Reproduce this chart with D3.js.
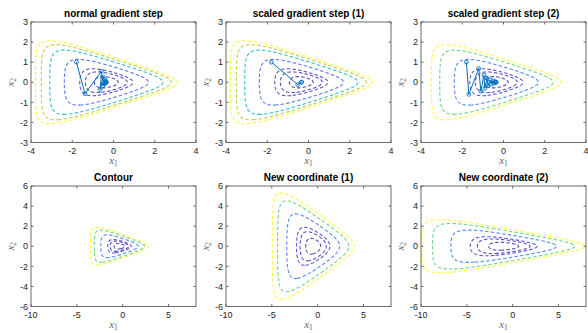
<!DOCTYPE html>
<html>
<head>
<meta charset="utf-8">
<script src="https://cdn.jsdelivr.net/npm/d3@7"></script>
<style>
  body { margin: 0; background: #fff; }
  text { font-family: "Liberation Sans", Arial, sans-serif; }
</style>
</head>
<body>
<script>
const width = 588;
const height = 333;

// contour levels of f(x) = exp(x1+3x2-.1) + exp(x1-3x2-.1) + exp(-x1-.1)
const levelsMany = [3, 4, 5, 10, 20, 30, 40];
const levelsFew = [3, 4, 5, 10, 20, 30];

// iterates
const pathNormal = [
  [-1.8, 1.0], [-1.38, -0.57], [-0.58, 0.55], [-0.65, -0.37], [-0.5, 0.27],
  [-0.52, -0.18], [-0.42, 0.13], [-0.44, -0.09], [-0.38, 0.06], [-0.39, -0.04],
  [-0.36, 0.02], [-0.36, -0.01], [-0.35, 0.0]
];
const pathScaled1 = [[-1.8, 1.0], [-0.52, -0.12], [-0.33, 0.01], [-0.35, 0.0]];
const pathScaled2 = [
  [-1.8, 1.0], [-1.68, -0.6], [-1.2, 0.68], [-1.1, -0.45], [-0.95, 0.35],
  [-0.9, -0.3], [-0.8, 0.2], [-0.75, -0.18], [-0.65, 0.12], [-0.6, -0.1],
  [-0.5, 0.07], [-0.48, -0.05], [-0.42, 0.03], [-0.4, -0.02], [-0.37, 0.01],
  [-0.35, 0.0]
];

// y = D x for the bottom row
const scaleNone = [1, 1];
const scaleNew1 = [Math.SQRT2, 2 * Math.SQRT2];
const scaleNew2 = [2 * Math.SQRT2, Math.SQRT2];

const topTicksX = [-4, -2, 0, 2, 4];
const topTicksY = [-3, -2, -1, 0, 1, 2, 3];
const botTicksX = [-10, -5, 0, 5];
const botTicksY = [-6, -4, -2, 0, 2, 4, 6];

// parula anchors
const parula = ["#3e26a8", "#4747eb", "#3875fe", "#23a0e5", "#0bbdbc",
  "#57cc7a", "#c5c22a", "#fec934", "#f9fb15"];
const parulaInterp = d3.piecewise(d3.interpolateRgb, parula);

function f(x1, x2) {
  return Math.exp(x1 + 3 * x2 - 0.1) + Math.exp(x1 - 3 * x2 - 0.1) + Math.exp(-x1 - 0.1);
}

const colLeft = [31, 226, 421];
const rowTop = [22, 186];
const axW = 165;
const axH = 120.5;

const panels = [
  { title: "normal gradient step", col: 0, row: 0, xd: [-4, 4], yd: [-3, 3],
    xt: topTicksX, yt: topTicksY, levels: levelsMany, D: scaleNone, path: pathNormal },
  { title: "scaled gradient step (1)", col: 1, row: 0, xd: [-4, 4], yd: [-3, 3],
    xt: topTicksX, yt: topTicksY, levels: levelsMany, D: scaleNone, path: pathScaled1 },
  { title: "scaled gradient step (2)", col: 2, row: 0, xd: [-4, 4], yd: [-3, 3],
    xt: topTicksX, yt: topTicksY, levels: levelsFew, D: scaleNone, path: pathScaled2 },
  { title: "Contour", col: 0, row: 1, xd: [-10, 8], yd: [-6, 6],
    xt: botTicksX, yt: botTicksY, levels: levelsFew, D: scaleNone, path: null },
  { title: "New coordinate (1)", col: 1, row: 1, xd: [-10, 8], yd: [-6, 6],
    xt: botTicksX, yt: botTicksY, levels: levelsFew, D: scaleNew1, path: null },
  { title: "New coordinate (2)", col: 2, row: 1, xd: [-10, 8], yd: [-6, 6],
    xt: botTicksX, yt: botTicksY, levels: levelsFew, D: scaleNew2, path: null }
];

const svg = d3.select("body").append("svg")
  .attr("width", width)
  .attr("height", height);

panels.forEach((p, k) => {
  const left = colLeft[p.col];
  const top = rowTop[p.row];
  const x = d3.scaleLinear().domain(p.xd).range([left, left + axW]);
  const y = d3.scaleLinear().domain(p.yd).range([top + axH, top]);

  svg.append("clipPath").attr("id", "clip" + k)
    .append("rect")
    .attr("x", left).attr("y", top).attr("width", axW).attr("height", axH);

  // grid a bit larger than the axes so the closing edges fall outside the clip
  const padX = (p.xd[1] - p.xd[0]) * 0.15;
  const padY = (p.yd[1] - p.yd[0]) * 0.15;
  const gx0 = p.xd[0] - padX, gx1 = p.xd[1] + padX;
  const gy0 = p.yd[0] - padY, gy1 = p.yd[1] + padY;
  const nx = 360, ny = 300;
  const stepX = (gx1 - gx0) / nx, stepY = (gy1 - gy0) / ny;
  const values = new Array(nx * ny);
  for (let j = 0; j < ny; j++) {
    for (let i = 0; i < nx; i++) {
      const u = gx0 + (i + 0.5) * stepX;
      const v = gy1 - (j + 0.5) * stepY;
      values[j * nx + i] = f(u / p.D[0], v / p.D[1]);
    }
  }
  const contours = d3.contours().size([nx, ny]).thresholds(p.levels)(values);
  const proj = d3.geoTransform({
    point: function (cx, cy) {
      this.stream.point(x(gx0 + cx * stepX), y(gy1 - cy * stepY));
    }
  });
  const geoPath = d3.geoPath(proj);
  const lo = d3.min(p.levels), hi = d3.max(p.levels);

  const g = svg.append("g").attr("clip-path", `url(#clip${k})`);
  g.selectAll("path.contour")
    .data(contours)
    .join("path")
    .attr("class", "contour")
    .attr("d", geoPath)
    .attr("fill", "none")
    .attr("stroke", (d) => parulaInterp((d.value - lo) / (hi - lo)))
    .attr("stroke-width", 1.1)
    .attr("stroke-opacity", 0.85)
    .attr("stroke-dasharray", "3.5,2.2");

  if (p.path) {
    g.append("path")
      .datum(p.path)
      .attr("d", d3.line().x((d) => x(d[0])).y((d) => y(d[1])))
      .attr("fill", "none")
      .attr("stroke", "#0072bd")
      .attr("stroke-width", 1);
    g.selectAll("circle")
      .data(p.path)
      .join("circle")
      .attr("cx", (d) => x(d[0]))
      .attr("cy", (d) => y(d[1]))
      .attr("r", 1.9)
      .attr("fill", "none")
      .attr("stroke", "#0072bd")
      .attr("stroke-width", 0.9);
  }

  // axes box and inward ticks
  const ax = svg.append("g");
  ax.append("rect")
    .attr("x", left).attr("y", top).attr("width", axW).attr("height", axH)
    .attr("fill", "none").attr("stroke", "#6b6b6b").attr("stroke-width", 1);
  const tl = 2.5;
  p.xt.forEach((t) => {
    ax.append("line").attr("x1", x(t)).attr("x2", x(t))
      .attr("y1", top + axH).attr("y2", top + axH - tl).attr("stroke", "#6b6b6b");
    ax.append("line").attr("x1", x(t)).attr("x2", x(t))
      .attr("y1", top).attr("y2", top + tl).attr("stroke", "#6b6b6b");
    ax.append("text").attr("x", x(t)).attr("y", top + axH + 11)
      .attr("text-anchor", "middle").attr("font-size", 9).attr("fill", "#262626")
      .text(t);
  });
  p.yt.forEach((t) => {
    ax.append("line").attr("x1", left).attr("x2", left + tl)
      .attr("y1", y(t)).attr("y2", y(t)).attr("stroke", "#6b6b6b");
    ax.append("line").attr("x1", left + axW).attr("x2", left + axW - tl)
      .attr("y1", y(t)).attr("y2", y(t)).attr("stroke", "#6b6b6b");
    ax.append("text").attr("x", left - 3).attr("y", y(t) + 3.2)
      .attr("text-anchor", "end").attr("font-size", 9).attr("fill", "#262626")
      .text(t);
  });

  ax.append("text").attr("x", left + axW / 2).attr("y", top - 5)
    .attr("text-anchor", "middle").attr("font-size", 10).attr("font-weight", "bold")
    .attr("fill", "#000").text(p.title);

  const xl = ax.append("text").attr("x", left + axW / 2).attr("y", top + axH + 21.5)
    .attr("text-anchor", "middle").attr("fill", "#666")
    .style("font-family", "'Liberation Serif', serif");
  xl.append("tspan").attr("font-size", 11).attr("font-style", "italic").text("x");
  xl.append("tspan").attr("font-size", 7.5).attr("dy", 2).text("1");

  const yl = ax.append("text")
    .attr("transform", `translate(${left - 17},${top + axH / 2}) rotate(-90)`)
    .attr("text-anchor", "middle").attr("fill", "#666")
    .style("font-family", "'Liberation Serif', serif");
  yl.append("tspan").attr("font-size", 11).attr("font-style", "italic").text("x");
  yl.append("tspan").attr("font-size", 7.5).attr("dy", 2).text("2");
});
</script>
</body>
</html>
